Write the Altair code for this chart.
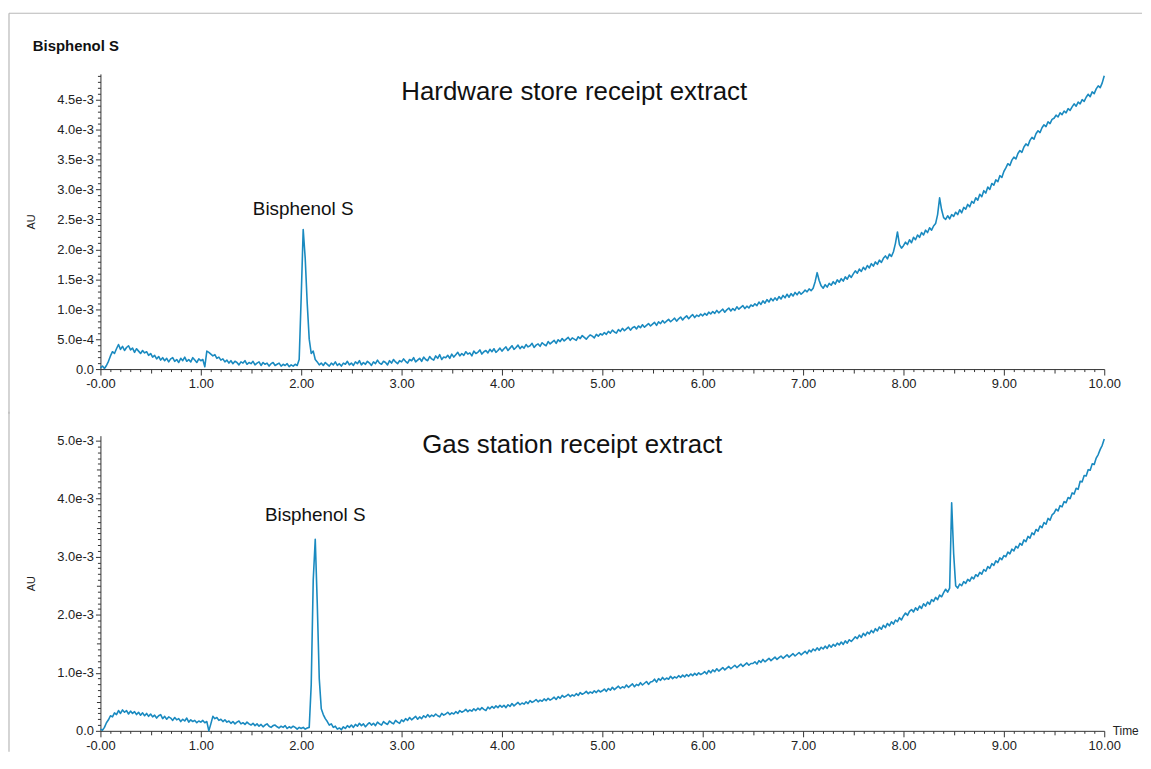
import altair as alt
import pandas as pd

# sampling grid of the chromatograms (minutes)
times = [round(i * 0.02, 2) for i in range(501)]

# absorbance, in units of 1e-4 AU
hardware_au_1e4 = [
    0.2, 0.5, 0.1, 0.6, 1.3, 2.2, 2.9, 2.6, 3.4, 4.1, 3.3, 3.8, 3.1, 3.6, 3.9, 3.2, 3.5, 2.8, 3.4, 3.0, 2.6, 3.1, 2.7, 2.9, 2.3,
    2.6, 2.0, 2.3, 1.7, 2.1, 1.5, 1.9, 1.4, 1.8, 1.2, 1.7, 1.9, 1.3, 1.6, 1.1, 1.8, 1.4, 2.0, 1.3, 1.6, 1.2, 1.9, 1.5, 1.1, 1.7,
    1.4, 1.6, 0.4, 3.0, 2.8, 2.5, 2.2, 2.4, 1.8, 2.0, 1.5, 1.7, 1.2, 1.5, 1.0, 1.4, 0.9, 1.3, 1.1, 0.7, 1.2, 1.0, 1.4, 0.8, 1.1,
    0.9, 1.3, 0.7, 1.0, 1.2, 0.6, 1.1, 0.8, 1.0, 0.5, 0.9, 1.1, 0.6, 0.8, 1.0, 0.5, 0.8, 0.6, 0.9, 0.4, 0.7, 0.5, 0.8, 0.6, 1.6,
    12.0, 23.3, 18.5, 11.0, 5.0, 2.6, 3.0, 1.6, 1.2, 0.7, 1.0, 0.6, 1.1, 0.8, 0.5, 1.0, 0.7, 1.2, 0.6, 0.9, 0.5, 1.0, 0.8, 1.3, 0.7,
    1.0, 0.6, 1.2, 0.9, 1.4, 0.7, 1.1, 0.8, 1.3, 1.0, 0.6, 1.2, 0.9, 1.5, 1.0, 0.8, 1.3, 1.1, 0.7, 1.4, 1.0, 1.6, 1.2, 0.9, 1.4,
    1.2, 1.7, 1.3, 1.0, 1.6, 1.4, 1.9, 1.2, 1.5, 1.8, 1.3, 2.0, 1.6, 1.4, 2.1, 1.7, 1.5, 2.2, 1.8, 2.4, 1.6, 2.0, 1.9, 2.3, 1.8,
    2.5, 2.0, 2.4, 2.8, 2.2, 2.6, 2.3, 2.9, 2.5, 2.7, 2.2, 3.0, 2.6, 2.8, 3.2, 2.5, 2.9, 3.1, 2.7, 3.3, 2.9, 3.4, 2.8, 3.1, 3.5,
    3.0, 3.4, 3.7, 3.1, 3.5, 3.9, 3.3, 3.6, 4.0, 3.4, 3.8, 3.5, 4.1, 3.7, 3.9, 4.3, 3.6, 4.0, 4.2, 3.8, 4.4, 4.1, 3.9, 4.6, 4.2,
    4.5, 4.8, 4.3, 4.9, 4.6, 5.1, 4.7, 5.0, 5.3, 4.8, 5.2, 5.0, 4.8, 5.4, 5.1, 5.6, 5.3, 5.0, 5.4, 5.7, 5.5, 5.2, 5.8, 5.5, 5.9,
    5.7, 6.1, 5.8, 6.3, 6.0, 6.5, 6.2, 6.0, 6.6, 6.3, 6.8, 6.4, 6.7, 7.0, 6.5, 6.9, 7.1, 6.7, 7.2, 6.9, 7.4, 7.0, 7.3, 7.6, 7.2,
    7.5, 7.8, 7.3, 7.9, 7.6, 8.1, 7.7, 8.0, 8.3, 7.9, 8.2, 8.5, 8.0, 8.4, 8.7, 8.2, 8.6, 8.9, 8.4, 8.8, 9.1, 8.6, 9.0, 8.8, 9.2,
    8.9, 9.3, 9.0, 9.5, 9.2, 9.6, 9.3, 9.8, 9.4, 9.7, 10.0, 9.5, 9.9, 10.2, 9.7, 10.1, 9.8, 10.4, 10.0, 10.3, 10.6, 10.1, 10.5, 10.2, 10.7,
    10.5, 10.9, 10.6, 11.2, 10.8, 11.4, 11.0, 11.6, 11.2, 11.8, 11.4, 11.9, 11.5, 12.1, 11.7, 12.3, 11.9, 12.5, 12.0, 12.6, 12.2, 12.8, 12.4, 12.9, 12.5,
    12.8, 13.2, 12.9, 13.4, 13.1, 13.5, 14.6, 16.1, 14.8, 13.9, 13.5, 14.1, 13.7, 14.3, 14.0, 14.6, 14.2, 14.9, 14.5, 15.1, 14.7, 15.4, 15.0, 15.7, 15.3,
    15.9, 16.4, 16.0, 16.7, 16.3, 17.0, 16.6, 17.3, 16.9, 17.6, 17.2, 17.9, 17.5, 18.2, 17.8, 18.5, 18.9, 18.4, 19.2, 18.8, 19.6, 21.0, 22.9, 20.8, 20.2,
    20.6, 21.2, 20.8, 21.6, 21.1, 22.0, 21.6, 22.4, 22.0, 22.8, 22.4, 23.2, 22.8, 23.6, 23.2, 23.9, 24.3, 25.8, 28.6, 26.6, 25.3, 25.0, 25.6, 25.1, 25.8,
    25.5, 26.2, 25.8, 26.6, 26.1, 27.0, 26.7, 27.5, 27.1, 28.0, 27.7, 28.6, 28.2, 29.2, 28.8, 29.8, 29.4, 30.4, 30.0, 31.0, 30.7, 31.6, 31.3, 32.3, 32.0,
    33.0, 33.6, 34.3, 34.0, 34.9, 35.4, 35.1, 36.0, 36.5, 36.2, 37.1, 37.6, 37.3, 38.2, 38.7, 38.4, 39.3, 39.8, 39.5, 40.3, 40.8, 40.5, 41.3, 41.0, 41.7,
    41.9, 42.4, 42.1, 42.8, 42.5, 43.1, 42.8, 43.5, 43.2, 43.8, 44.3, 43.9, 44.6, 44.3, 45.0, 44.7, 45.4, 45.9, 45.5, 46.3, 46.0, 46.8, 47.3, 47.0, 47.8,
    49.0,
]

gas_au_1e4 = [
    0.3, 0.1, 0.6, 1.4, 1.9, 2.6, 2.4, 3.1, 2.8, 3.5, 3.0, 3.6, 3.2, 3.5, 2.9, 3.4, 3.0, 3.3, 2.8, 3.2, 2.7, 3.1, 2.6, 3.0, 2.5,
    2.9, 2.4, 2.7, 2.2, 2.6, 2.8, 2.1, 2.5, 2.0, 2.4, 2.2, 1.8, 2.3, 1.9, 2.1, 1.6, 2.0, 1.7, 2.2, 1.5, 1.9, 1.6, 1.8, 1.4, 1.7,
    1.5, 1.8, 1.4, 1.6, 0.0, 1.2, 2.5, 2.1, 2.3, 1.8, 2.0, 1.6, 1.9, 1.5, 1.7, 1.3, 1.6, 1.2, 1.5, 1.7, 1.2, 1.4, 1.1, 1.5, 1.2,
    1.0, 1.3, 0.9, 1.2, 0.8, 1.1, 0.7, 1.0, 1.2, 0.8, 0.6, 0.9, 1.0, 0.7, 0.5, 0.8, 0.6, 0.9, 0.4, 0.7, 0.5, 0.8, 0.6, 0.3, 0.6,
    0.4, 0.6, 0.3, 0.5, 0.6, 8.0, 26.0, 33.0, 22.0, 9.0, 3.8, 2.8, 2.1, 1.6, 1.0, 1.2, 0.6, 0.8, 0.3, 0.5, 0.2, 0.7, 0.4, 0.9, 0.6,
    1.0, 0.6, 1.1, 0.8, 1.3, 0.9, 1.2, 0.7, 1.1, 1.4, 1.0, 1.3, 0.9, 1.5, 1.2, 1.0, 1.6, 1.3, 1.1, 1.7, 1.4, 1.2, 1.8, 1.5, 1.3,
    1.9, 1.6, 2.1, 1.8, 2.3, 1.9, 2.2, 2.5, 2.0, 2.4, 2.1, 2.6, 2.3, 2.8, 2.4, 2.7, 2.5, 2.9, 2.6, 2.4, 3.0, 2.7, 2.9, 3.2, 2.8,
    3.1, 2.9, 3.3, 3.0, 3.5, 3.2, 3.4, 3.7, 3.3, 3.6, 3.4, 3.8, 3.5, 3.9, 3.6, 4.0, 3.7, 3.5, 4.1, 3.8, 4.2, 3.9, 4.3, 4.0, 4.4,
    4.1, 4.4, 4.0, 4.5, 4.2, 4.7, 4.3, 4.6, 4.9, 4.5, 4.8, 4.6, 5.0, 4.7, 5.2, 4.9, 5.1, 5.4, 5.0, 5.3, 5.1, 5.5, 5.2, 5.6, 5.3,
    5.5, 5.8, 5.4, 5.9, 5.6, 6.1, 5.8, 6.0, 6.3, 5.9, 6.2, 6.0, 6.4, 6.1, 6.6, 6.3, 6.5, 6.8, 6.4, 6.7, 6.5, 6.9, 6.6, 7.0, 6.7,
    6.9, 7.2, 6.8, 7.3, 7.0, 7.5, 7.1, 7.4, 7.7, 7.3, 7.6, 7.4, 7.9, 7.5, 7.8, 8.1, 7.6, 8.0, 7.8, 8.3, 7.9, 8.2, 8.5, 8.0, 8.4,
    8.5, 8.9, 8.4, 9.0, 8.7, 9.2, 8.8, 9.1, 8.9, 9.4, 9.0, 9.3, 9.1, 9.5, 9.2, 9.6, 9.3, 9.7, 9.4, 9.8, 9.5, 9.9, 9.6, 10.0, 9.7,
    9.9, 10.2, 9.8, 10.4, 10.0, 10.5, 10.2, 10.7, 10.3, 10.6, 10.9, 10.5, 10.8, 11.1, 10.7, 11.0, 11.3, 10.9, 11.2, 11.5, 11.1, 11.4, 11.7, 11.3, 11.6,
    11.6, 11.9, 11.5, 12.1, 11.8, 12.3, 11.9, 12.2, 12.5, 12.1, 12.4, 12.7, 12.3, 12.6, 12.9, 12.5, 12.8, 13.1, 12.7, 13.0, 13.3, 12.9, 13.2, 13.5, 13.1,
    13.4, 13.7, 13.3, 13.9, 13.6, 14.1, 13.8, 14.3, 13.9, 14.4, 14.1, 14.6, 14.2, 14.8, 14.4, 14.9, 14.6, 15.1, 14.8, 15.3, 14.9, 15.5, 15.1, 15.7, 15.4,
    15.8, 16.2, 15.9, 16.5, 16.1, 16.8, 16.4, 17.0, 16.7, 17.3, 16.9, 17.6, 17.2, 17.9, 17.5, 18.2, 17.8, 18.5, 18.1, 18.8, 18.4, 19.1, 18.8, 19.5, 19.1,
    19.8, 20.3, 19.9, 20.6, 20.9, 20.5, 21.2, 20.8, 21.5, 21.1, 21.9, 21.5, 22.2, 21.8, 22.6, 22.3, 23.0, 22.6, 23.4, 23.1, 23.8, 24.4, 23.9, 24.6, 39.3,
    30.5, 25.0, 24.6, 25.3, 25.0, 25.7, 25.4, 26.1, 25.8, 26.5, 26.2, 26.9, 26.6, 27.3, 27.0, 27.8, 27.5, 28.3, 28.0, 28.8, 28.5, 29.3, 29.0, 29.8, 29.5,
    30.2, 30.0, 30.8, 30.5, 31.3, 31.0, 31.8, 31.5, 32.3, 32.0, 32.9, 32.6, 33.5, 33.2, 34.1, 33.8, 34.7, 34.4, 35.3, 35.0, 35.9, 35.6, 36.6, 36.3, 37.2,
    37.5, 38.2, 37.9, 38.8, 38.6, 39.5, 39.3, 40.2, 40.0, 41.0, 40.8, 41.8, 41.6, 43.0, 42.9, 44.0, 43.9, 45.0, 44.9, 46.0, 45.9, 47.0, 47.6, 48.5, 49.2,
    50.3,
]

# axis ticks
x_tick_values = [round(k * 0.1, 1) for k in range(101)]
top_y_tick_values = [round(k * 1e-4, 5) for k in range(50)]
bottom_y_tick_values = [round(k * 1e-4, 5) for k in range(51)]
top_y_max = 4.93e-3
bottom_y_max = 5.086e-3

# texts
chart_title = "Bisphenol S"
panel_titles = ["Hardware store receipt extract", "Gas station receipt extract"]
panel_title_time = [4.72, 4.70]
panel_title_au = [4.50e-3, 4.79e-3]
peak_labels = ["Bisphenol S", "Bisphenol S"]
peak_label_time = [2.02, 2.14]
peak_label_au = [2.575e-3, 3.62e-3]

FONT = "Liberation Sans"
AXC = "#333333"
LBL = "#222222"
LINE = "#1a8ac0"
FRAME = "#b8b8b8"
W, H = 1010, 297


def cond(pairs, default):
    return {"condition": [{"test": t, "value": v} for t, v in pairs], "value": default}


X_MAJ = "abs(datum.value - round(datum.value)) < 0.001"
X_MID = "abs(datum.value*2 - round(datum.value*2)) < 0.001"


def x_axis(show_time):
    kw = dict(
        values=x_tick_values,
        tickSize=cond([(X_MAJ, 6), (X_MID, 4)], 2.5),
        labelExpr="(" + X_MAJ + ") ? (datum.value == 0 ? '-0.00' : format(datum.value, '.2f')) : ''",
        labelOverlap=False,
        labelFlush=False,
        labelFont=FONT,
        labelFontSize=13,
        labelColor=LBL,
        labelPadding=3,
        domainColor=AXC,
        tickColor=AXC,
        grid=False,
    )
    if show_time:
        kw.update(
            title="Time",
            titleX=W + 8,
            titleY=0,
            titleAlign="left",
            titleBaseline="middle",
            titleAngle=0,
            titleFont=FONT,
            titleFontSize=12,
            titleFontWeight="normal",
            titleColor=LBL,
        )
    else:
        kw.update(title=None)
    return alt.Axis(**kw)


def y_axis(values, major_test, mid_test):
    pairs = [(major_test, 5)]
    if mid_test:
        pairs.append((mid_test, 4))
    return alt.Axis(
        values=values,
        tickSize=cond(pairs, 3),
        labelExpr="(" + major_test + ") ? (datum.value == 0 ? '0.0' : format(datum.value, '.1e')) : ''",
        labelOverlap=False,
        labelFlush=False,
        labelFont=FONT,
        labelFontSize=13,
        labelColor=LBL,
        labelPadding=2,
        domainColor=AXC,
        tickColor=AXC,
        grid=False,
        title="AU",
        titleX=-69,
        titleY=H / 2,
        titleAngle=270,
        titleAlign="center",
        titleBaseline="middle",
        titleFont=FONT,
        titleFontSize=11,
        titleFontWeight="normal",
        titleColor=LBL,
    )


one = pd.DataFrame({"k": [0]})


def panel(i, series, y_max, y_vals, major_test, mid_test, show_time, frame):
    df = pd.DataFrame({"time": times, "au": [v * 1e-4 for v in series]})
    xs = alt.Scale(domain=[0, 10], nice=False, zero=False)
    ys = alt.Scale(domain=[0, y_max], nice=False)
    X = alt.X("time:Q", scale=xs, axis=x_axis(show_time))
    Y = alt.Y("au:Q", scale=ys, axis=y_axis(y_vals, major_test, mid_test))
    line = alt.Chart(df).mark_line(color=LINE, strokeWidth=1.6, strokeJoin="round").encode(x=X, y=Y)
    tdf = pd.DataFrame({"time": [panel_title_time[i]], "au": [panel_title_au[i]], "label": [panel_titles[i]]})
    title = alt.Chart(tdf).mark_text(font=FONT, fontSize=26, color="#111111", align="center",
                                     baseline="alphabetic").encode(x=X, y=Y, text="label:N")
    pdf = pd.DataFrame({"time": [peak_label_time[i]], "au": [peak_label_au[i]], "label": [peak_labels[i]]})
    plabel = alt.Chart(pdf).mark_text(font=FONT, fontSize=19, color="#111111", align="center",
                                      baseline="alphabetic").encode(x=X, y=Y, text="label:N")
    return alt.layer(*frame, line, title, plabel).properties(width=W, height=H)


top_frame = [
    alt.Chart(one).mark_rule(color=FRAME, strokeWidth=1.2, clip=False).encode(
        x=alt.value(-92), x2=alt.value(1048), y=alt.value(-61)),
    alt.Chart(one).mark_rule(color=FRAME, strokeWidth=1.2, clip=False).encode(
        x=alt.value(-92), y=alt.value(-61), y2=alt.value(342)),
    alt.Chart(pd.DataFrame({"label": [chart_title]})).mark_text(
        font=FONT, fontSize=15, fontWeight="bold", color="#111111", align="left", baseline="alphabetic"
    ).encode(x=alt.value(-68), y=alt.value(-23), text="label:N"),
]
bottom_frame = [
    alt.Chart(one).mark_rule(color=FRAME, strokeWidth=1.2, clip=False).encode(
        x=alt.value(-92), y=alt.value(-24), y2=alt.value(318)),
]

top = panel(0, hardware_au_1e4, top_y_max, top_y_tick_values,
            "abs(datum.value*2000 - round(datum.value*2000)) < 0.01", None, False, top_frame)
bottom = panel(1, gas_au_1e4, bottom_y_max, bottom_y_tick_values,
               "abs(datum.value*1000 - round(datum.value*1000)) < 0.01",
               "abs(datum.value*2000 - round(datum.value*2000)) < 0.01", True, bottom_frame)

chart = alt.vconcat(top, bottom, spacing=-4).properties(
    padding={"left": 0, "top": 2, "right": 0, "bottom": 0},
    background="white",
).configure_view(stroke=None)

chart.save("out.html", embed_options={"renderer": "svg", "actions": False})
